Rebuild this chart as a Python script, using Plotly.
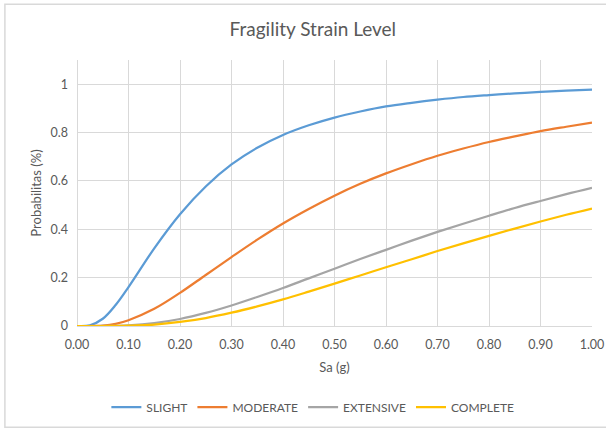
import plotly.graph_objects as go

# Spectral acceleration Sa (g)
sa = [0.0, 0.025, 0.05, 0.075, 0.10, 0.15, 0.20, 0.25, 0.30, 0.35, 0.40, 0.45,
      0.50, 0.55, 0.60, 0.65, 0.70, 0.75, 0.80, 0.85, 0.90, 0.95, 1.00]

# Probability of exceeding each damage state
slight = [0.0, 0.003, 0.030, 0.087, 0.161, 0.321, 0.462, 0.577, 0.668, 0.737, 0.790,
          0.830, 0.862, 0.887, 0.908, 0.923, 0.936, 0.947, 0.955, 0.962, 0.968, 0.973, 0.977]
moderate = [0.0, 0.0, 0.002, 0.009, 0.024, 0.071, 0.137, 0.211, 0.285, 0.357, 0.424,
            0.484, 0.539, 0.588, 0.631, 0.669, 0.704, 0.734, 0.761, 0.784, 0.806, 0.824, 0.841]
extensive = [0.0, 0.0, 0.0001, 0.0008, 0.0026, 0.012, 0.029, 0.054, 0.085, 0.120, 0.157,
             0.197, 0.237, 0.277, 0.315, 0.353, 0.389, 0.423, 0.456, 0.488, 0.517, 0.545, 0.571]
complete = [0.0, 0.0, 0.0, 0.0002, 0.0012, 0.006, 0.017, 0.033, 0.055, 0.081, 0.110,
            0.142, 0.175, 0.209, 0.243, 0.276, 0.310, 0.342, 0.373, 0.403, 0.432, 0.460, 0.486]

series = [
    ("SLIGHT", slight, "#5B9BD5"),
    ("MODERATE", moderate, "#ED7D31"),
    ("EXTENSIVE", extensive, "#A5A5A5"),
    ("COMPLETE", complete, "#FFC000"),
]

x_ticks = [0.0, 0.1, 0.2, 0.3, 0.4, 0.5, 0.6, 0.7, 0.8, 0.9, 1.0]
y_ticks = [0, 0.2, 0.4, 0.6, 0.8, 1]

FONT = "Lato, 'Open Sans', sans-serif"
TXT = "#595959"
GRID = "#D9D9D9"

fig = go.Figure()
for name, vals, color in series:
    fig.add_trace(go.Scatter(
        x=sa, y=vals, name=name, mode="lines",
        line=dict(color=color, width=2.25, shape="spline", smoothing=1.0),
    ))

fig.update_layout(
    width=606, height=428,
    margin=dict(l=77, r=14, t=60, b=102, autoexpand=False),
    paper_bgcolor="white", plot_bgcolor="white",
    font=dict(family=FONT, color=TXT, size=12.5),
    title=dict(text="Fragility Strain Level", x=0.458, xref="paper", xanchor="center",
               y=1 - 29 / 428, yref="container", yanchor="middle",
               font=dict(family=FONT, size=19, color=TXT)),
    showlegend=True,
    legend=dict(orientation="h", x=0.458, xanchor="center",
                y=1 - 407 / 428, yref="container", yanchor="middle",
                font=dict(family=FONT, size=12, color=TXT), bgcolor="rgba(0,0,0,0)"),
    shapes=[dict(type="rect", xref="paper", yref="paper",
                 x0=-0.140, x1=1.2, y0=-0.381, y1=1.21,
                 line=dict(color=GRID, width=1.5), fillcolor="rgba(0,0,0,0)", layer="below")],
)

fig.update_xaxes(
    range=[0, 1.0], tickvals=x_ticks, tickformat=".2f", automargin=False,
    showgrid=True, gridcolor=GRID, gridwidth=1,
    zeroline=True, zerolinecolor=GRID, zerolinewidth=1,
    showline=True, linecolor=GRID, linewidth=1,
    ticks="", ticklabelstandoff=7,
    title=dict(text="Sa (g)", font=dict(family=FONT, size=13, color=TXT), standoff=11),
)
fig.update_yaxes(
    range=[0, 1.1], tickvals=y_ticks, automargin=False,
    showgrid=True, gridcolor=GRID, gridwidth=1,
    zeroline=False, showline=False,
    ticks="", ticklabelstandoff=8,
    title=dict(text="Probabilitas (%)", font=dict(family=FONT, size=13, color=TXT), standoff=5),
)

fig.write_html("out.html")
